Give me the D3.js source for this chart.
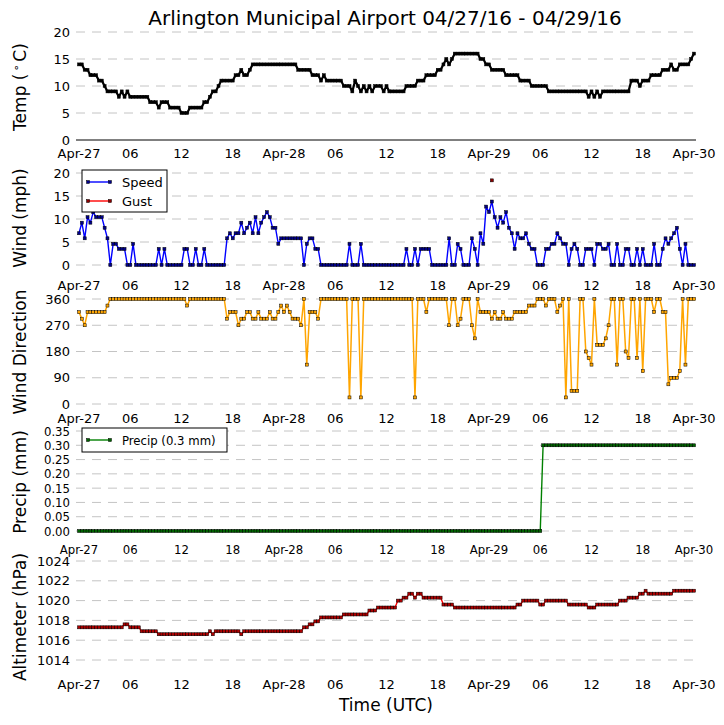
<!DOCTYPE html>
<html>
<head>
<meta charset="utf-8">
<script src="https://cdn.jsdelivr.net/npm/d3@7"></script>
<style>
  body { margin: 0; background: #fff; }
  svg text { font-family: "DejaVu Sans", sans-serif; fill: #000; }
  .narrow text { font-family: "DejaVu Sans Condensed", "Liberation Sans Narrow", "DejaVu Sans", sans-serif; font-stretch: condensed; }
</style>
</head>
<body>
<svg id="chart"></svg>
<script>
// observations every 20 minutes starting at this time (UTC)
const startTime = "2016-04-27T00:00:00Z";
const endTime = "2016-04-30T00:00:00Z";
const stepMinutes = 20;
const title = "Arlington Municipal Airport 04/27/16 - 04/29/16";

// [value, number of consecutive observations]
const tempRuns = [[14,2],[13,2],[12,3],[11,2],[10,1],[9,4],[8,1],[9,1],[8,1],[9,1],[8,7],[7,3],[6,1],[7,3],[6,4],[5,3],
  [6,5],[7,2],[8,1],[9,2],[10,1],[11,5],[12,2],[13,1],[12,2],[13,1],[14,16],[13,5],[12,3],[11,1],[12,1],[11,1],[11,5],
  [10,3],[9,1],[11,1],[10,1],[9,1],[10,1],[9,1],[10,1],[9,1],[10,3],[9,1],[10,1],[9,6],[10,4],[11,3],[12,4],[13,2],
  [14,1],[15,1],[14,1],[15,1],[16,9],[15,2],[14,2],[13,5],[12,5],[11,4],[10,6],[9,14],[8,1],[9,1],[8,1],[9,1],[8,1],
  [9,10],[11,3],[10,1],[11,3],[12,4],[13,3],[14,1],[13,2],[14,4],[15,1],[16,1]];

const windSpeed = [6.9,9.2,5.8,10.4,9.2,11.5,10.4,10.4,10.4,8.1,5.8,
  0,4.6,4.6,3.5,3.5,3.5,0,0,4.6,
  0,0,0,0,0,0,0,0,
  3.5,0,3.5,
  0,0,0,0,0,0,
  3.5,3.5,0,0,3.5,0,0,3.5,
  0,0,0,0,0,0,0,
  5.8,6.9,5.8,6.9,6.9,9.2,6.9,8.1,9.2,6.9,10.4,6.9,9.2,10.4,11.5,10.4,8.1,8.1,4.6,
  5.8,5.8,5.8,5.8,5.8,5.8,5.8,5.8,
  0,4.6,5.8,5.8,3.5,3.5,
  0,0,0,0,0,0,0,0,0,0,
  4.6,0,0,0,4.6,
  0,0,0,0,0,0,0,0,0,0,0,0,0,0,0,
  3.5,0,0,3.5,0,3.5,3.5,3.5,3.5,
  0,0,0,0,0,0,
  5.8,0,0,4.6,3.5,0,0,0,5.8,3.5,0,
  6.9,4.6,12.7,11.5,13.8,10.4,8.1,10.4,9.2,11.5,8.1,6.9,3.5,6.9,5.8,5.8,6.9,4.6,3.5,3.5,
  0,0,0,
  3.5,3.5,4.6,4.6,6.9,5.8,4.6,4.6,
  0,3.5,4.6,3.5,0,0,3.5,3.5,3.5,0,
  4.6,4.6,3.5,3.5,4.6,0,0,4.6,0,0,
  3.5,3.5,0,0,3.5,0,3.5,0,0,0,
  4.6,0,0,3.5,5.8,4.6,5.8,6.9,8.1,3.5,
  0,4.6,0,0,0];

const gustIndex = [145];
const gustValues = [18.4];

const dirRuns = [[315,1],[292.5,1],[270,1],[315,7],[337.5,1],[360,27],[337.5,1],[360,13],
  [292.5,1],[315,3],[270,1],[292.5,2],[315,2],[292.5,2],[315,1],[292.5,3],[315,1],[292.5,2],[315,1],[337.5,1],
  [315,1],[337.5,1],[315,1],[292.5,3],[270,1],[360,1],[135,1],[315,3],[292.5,1],
  [360,10],[22.5,1],[360,3],[22.5,1],[360,18],[22.5,1],[360,3],[315,1],[360,7],[270,1],[360,2],[270,1],[292.5,1],
  [360,3],[270,1],[225,1],[360,1],[315,4],[292.5,1],[315,1],[292.5,2],[315,1],[292.5,3],[315,5],[337.5,3],[360,3],
  [337.5,1],[360,3],[315,1],[337.5,1],[360,1],[22.5,1],[360,1],[45,3],[360,2],[180,1],[157.5,1],[135,1],[360,1],
  [202.5,3],[225,1],[270,1],[360,2],[135,1],[360,2],[180,1],[157.5,1],[360,2],[157.5,1],[360,1],[112.5,1],[360,3],
  [315,1],[360,2],[315,2],[67.5,1],[90,3],[112.5,1],[360,1],[135,1],[360,3]];

const precipRuns = [[0,163],[0.3,54]];

const altRuns = [[1017.3,16],[1017.6,2],[1017.3,4],[1016.9,6],[1016.6,18],[1016.9,1],[1016.6,1],[1016.9,9],
  [1016.6,1],[1016.9,21],[1017.3,2],[1017.6,2],[1017.9,2],[1018.3,8],[1018.6,9],[1019.0,3],[1019.3,7],[1020.0,2],
  [1020.3,2],[1020.7,2],[1020.3,1],[1020.7,2],[1020.3,7],[1019.6,4],[1019.3,22],[1019.6,2],[1020.0,6],[1019.6,2],
  [1020.0,8],[1019.6,7],[1019.3,3],[1019.6,8],[1020.0,3],[1020.3,4],[1020.7,2],[1021.0,1],[1020.7,9],[1021.0,8]];

const tempTicks = [0, 5, 10, 15, 20];
const windTicks = [0, 5, 10, 15, 20];
const dirTicks = [0, 90, 180, 270, 360];
const precipTicks = [0, 0.05, 0.10, 0.15, 0.20, 0.25, 0.30, 0.35];
const altTicks = [1014, 1016, 1018, 1020, 1022, 1024];

const W = 724, H = 725;
const svg = d3.select("#chart").attr("width", W).attr("height", H);

const expand = runs => runs.flatMap(([v, n]) => Array(n).fill(v));
const t0 = new Date(startTime);
const timeAt = i => new Date(t0.getTime() + i * stepMinutes * 60000);
const toPoints = vals => vals.map((v, i) => ({ t: timeAt(i), v: v }));

const x = d3.scaleUtc()
  .domain([t0, new Date(endTime)])
  .range([79, 694]);
const xTicks = x.ticks(d3.utcHour.every(6));
const fmtX = d => d.getUTCHours() === 0 ? d3.utcFormat("%b-%d")(d) : d3.utcFormat("%H")(d);

svg.append("text")
  .attr("x", 385).attr("y", 25)
  .attr("text-anchor", "middle")
  .style("font-size", "20px")
  .text(title);

const panels = [
  { label: "temp", domain: [0, 20], range: [140, 32], ticks: tempTicks, fmt: d3.format("d"), xLabelY: 158, mid: 87,
    solidBase: true,
    series: [{ pts: toPoints(expand(tempRuns)), color: "#000", mark: "#000", width: 2.2 }] },
  { label: "Wind (mph)", domain: [0, 20], range: [265, 173], ticks: windTicks, fmt: d3.format("d"), xLabelY: 290, mid: 218,
    series: [{ pts: toPoints(windSpeed), color: "#0000ff", mark: "#00008b", width: 1.4 },
             { pts: gustIndex.map((idx, k) => ({ t: timeAt(idx), v: gustValues[k] })), color: "#ff0000", mark: "#8b0000", width: 1.4 }],
    legend: { w: 85, h: 42, items: [["Speed", "#0000ff", "#00008b"], ["Gust", "#ff0000", "#8b0000"]] } },
  { label: "Wind Direction", domain: [0, 360], range: [404, 299], ticks: dirTicks, fmt: d3.format("d"), xLabelY: 423, mid: 352,
    series: [{ pts: toPoints(expand(dirRuns)), color: "#ffa500", mark: "#ffa500", width: 1.5 }] },
  { label: "Precip (mm)", domain: [0, 0.35], range: [531, 431], ticks: precipTicks, fmt: d3.format(".2f"), xLabelY: 554, mid: 482,
    narrow: true,
    series: [{ pts: toPoints(expand(precipRuns)), color: "#008000", mark: "#006400", width: 1.4 }],
    legend: { w: 145, h: 24, items: [["Precip (0.3 mm)", "#008000", "#006400"]] } },
  { label: "Altimeter (hPa)", domain: [1014, 1024], range: [660, 561], ticks: altTicks, fmt: d3.format("d"), xLabelY: 689, mid: 617,
    series: [{ pts: toPoints(expand(altRuns)), color: "#ff0000", mark: "#b00000", width: 1.4 }] }
];

panels.forEach(p => {
  const g = svg.append("g").attr("class", p.narrow ? "narrow" : null);
  const y = d3.scaleLinear().domain(p.domain).range(p.range);

  // grid
  g.selectAll(".grid").data(p.ticks).join("line")
    .attr("x1", 76).attr("x2", 696)
    .attr("y1", d => y(d)).attr("y2", d => y(d))
    .attr("stroke", d => (p.solidBase && d === 0) ? "#000" : "#c4c4c4")
    .attr("stroke-width", 1)
    .attr("stroke-dasharray", d => (p.solidBase && d === 0) ? null : "9,7");

  // y tick labels
  g.selectAll(".ytick").data(p.ticks).join("text")
    .attr("x", 70).attr("y", d => y(d) + 4.5)
    .attr("text-anchor", "end")
    .style("font-size", "13px")
    .text(p.fmt);

  // x tick labels
  g.selectAll(".xtick").data(xTicks).join("text")
    .attr("x", d => x(d)).attr("y", p.xLabelY)
    .attr("text-anchor", "middle")
    .style("font-size", "13px")
    .text(fmtX);

  // axis title
  const yl = svg.append("text")
    .attr("transform", `translate(26,${p.mid}) rotate(-90)`)
    .attr("text-anchor", "middle")
    .style("font-size", "17px");
  if (p.label === "temp") {
    yl.append("tspan").text("Temp (");
    yl.append("tspan").attr("dy", -6).attr("dx", 2).style("font-size", "11px").text("\u2218");
    yl.append("tspan").attr("dy", 6).attr("dx", 3).text("C)");
  } else {
    yl.text(p.label);
  }

  // series
  p.series.forEach(s => {
    const line = d3.line().x(d => x(d.t)).y(d => y(d.v));
    if (s.pts.length > 1) {
      g.append("path").datum(s.pts)
        .attr("d", line)
        .attr("fill", "none")
        .attr("stroke", s.color)
        .attr("stroke-width", s.width)
        .attr("stroke-linejoin", "round");
    }
    g.selectAll(null).data(s.pts).join("rect")
      .attr("x", d => x(d.t) - 1.5).attr("y", d => y(d.v) - 1.5)
      .attr("width", 3).attr("height", 3)
      .attr("fill", s.mark)
      .attr("stroke", "#000")
      .attr("stroke-width", 0.5);
  });

  // legend
  if (p.legend) {
    const lg = g.append("g").attr("transform", `translate(82,${p.range[1] - 3})`);
    lg.append("rect")
      .attr("width", p.legend.w).attr("height", p.legend.h)
      .attr("fill", "#fff").attr("stroke", "#000").attr("stroke-width", 1);
    p.legend.items.forEach((it, i) => {
      const cy = 12 + i * 19;
      lg.append("line").attr("x1", 6).attr("x2", 28).attr("y1", cy).attr("y2", cy)
        .attr("stroke", it[1]).attr("stroke-width", 1.4);
      [6, 28].forEach(cx => lg.append("rect")
        .attr("x", cx - 1.5).attr("y", cy - 1.5).attr("width", 3).attr("height", 3)
        .attr("fill", it[2]).attr("stroke", "#000").attr("stroke-width", 0.5));
      lg.append("text").attr("x", 40).attr("y", cy + 5)
        .style("font-size", "13px").text(it[0]);
    });
  }
});

svg.append("text")
  .attr("x", 386).attr("y", 711)
  .attr("text-anchor", "middle")
  .style("font-size", "17px")
  .text("Time (UTC)");
</script>
</body>
</html>
